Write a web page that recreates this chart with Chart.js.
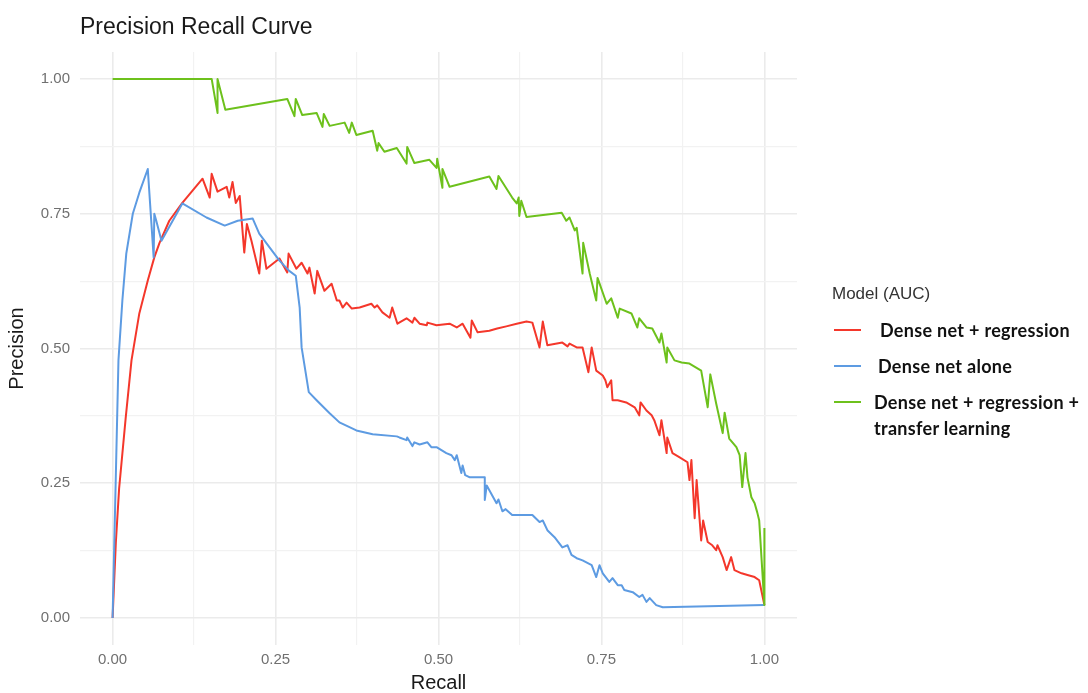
<!DOCTYPE html>
<html>
<head>
<meta charset="utf-8">
<title>Precision Recall Curve</title>
<script src="https://cdn.jsdelivr.net/npm/chart.js@4.4.1/dist/chart.umd.min.js"></script>
<style>
  html, body { margin: 0; padding: 0; background: #fff; }
  #wrap { position: relative; width: 1088px; height: 693px; overflow: hidden; }
  #legend { position: absolute; left: 832px; top: 281px; font-family: 'Liberation Sans', Arial, sans-serif; }
  #legend .ttl { font-size: 17px; color: #333; line-height: 26px; margin-bottom: 10px; }
  #legend .item { display: flex; align-items: flex-start; margin-bottom: 10px; }
  #legend .sw { width: 27px; height: 2px; margin: 12px 19px 0 2px; flex: none; }
  #legend .txt { font-family: Lato, 'Open Sans', sans-serif; font-weight: bold; font-size: 18px; letter-spacing: 0.3px; line-height: 26px; color: #111; white-space: nowrap; }
</style>
</head>
<body>
<div id="wrap">
  <canvas id="prChart" width="1088" height="693"></canvas>
  <div id="legend"></div>
</div>
<script>
// series: dense net + regression
const recallReg = [0, 0.005, 0.01, 0.02, 0.029, 0.041, 0.054, 0.064, 0.072, 0.087,
  0.107, 0.138, 0.149, 0.152, 0.161, 0.175, 0.179, 0.184, 0.189, 0.195,
  0.202, 0.206, 0.213, 0.225, 0.229, 0.236, 0.256, 0.268, 0.270, 0.282,
  0.290, 0.299, 0.302, 0.310, 0.314, 0.325, 0.336, 0.344, 0.348, 0.353,
  0.359, 0.367, 0.379, 0.397, 0.402, 0.406, 0.414, 0.425, 0.429, 0.437,
  0.451, 0.460, 0.463, 0.471, 0.482, 0.483, 0.497, 0.517, 0.528, 0.537,
  0.549, 0.551, 0.560, 0.578, 0.590, 0.604, 0.620, 0.635, 0.644, 0.655,
  0.660, 0.667, 0.690, 0.698, 0.701, 0.712, 0.721, 0.730, 0.735, 0.742,
  0.752, 0.756, 0.759, 0.765, 0.767, 0.775, 0.788, 0.801, 0.808, 0.810,
  0.819, 0.827, 0.831, 0.839, 0.842, 0.850, 0.851, 0.859, 0.870, 0.882,
  0.885, 0.888, 0.893, 0.896, 0.903, 0.906, 0.913, 0.920, 0.926, 0.928,
  0.936, 0.942, 0.949, 0.954, 0.965, 0.974, 0.985, 0.992, 1.0];
const precisionReg = [0, 0.14, 0.24, 0.37, 0.478, 0.565, 0.626, 0.669, 0.696, 0.737,
  0.770, 0.815, 0.780, 0.824, 0.791, 0.800, 0.780, 0.809, 0.770, 0.783,
  0.678, 0.731, 0.700, 0.639, 0.700, 0.648, 0.667, 0.641, 0.676, 0.648,
  0.659, 0.639, 0.650, 0.602, 0.644, 0.607, 0.620, 0.589, 0.589, 0.576,
  0.585, 0.574, 0.576, 0.583, 0.576, 0.580, 0.567, 0.557, 0.576, 0.546,
  0.556, 0.548, 0.557, 0.546, 0.543, 0.548, 0.543, 0.546, 0.539, 0.546,
  0.520, 0.552, 0.530, 0.533, 0.537, 0.541, 0.546, 0.550, 0.548, 0.502,
  0.550, 0.506, 0.511, 0.504, 0.509, 0.502, 0.502, 0.456, 0.502, 0.459,
  0.450, 0.441, 0.428, 0.441, 0.404, 0.404, 0.400, 0.391, 0.376, 0.400,
  0.385, 0.376, 0.367, 0.339, 0.367, 0.306, 0.335, 0.306, 0.298, 0.289,
  0.256, 0.293, 0.185, 0.256, 0.144, 0.181, 0.141, 0.135, 0.126, 0.135,
  0.113, 0.089, 0.113, 0.089, 0.083, 0.080, 0.076, 0.070, 0.024];

// series: dense net alone
const recallAlone = [0, 0.009, 0.015, 0.021, 0.031, 0.041, 0.054, 0.063, 0.064, 0.067,
  0.075, 0.107, 0.144, 0.172, 0.192, 0.215, 0.225, 0.256, 0.271, 0.281,
  0.287, 0.290, 0.301, 0.313, 0.333, 0.348, 0.374, 0.399, 0.436, 0.440,
  0.451, 0.452, 0.460, 0.463, 0.471, 0.483, 0.489, 0.497, 0.512, 0.520,
  0.525, 0.528, 0.535, 0.537, 0.541, 0.548, 0.571, 0.571, 0.574, 0.589,
  0.592, 0.598, 0.603, 0.613, 0.644, 0.655, 0.660, 0.667, 0.678, 0.690,
  0.698, 0.704, 0.712, 0.721, 0.735, 0.742, 0.747, 0.752, 0.762, 0.767,
  0.775, 0.781, 0.785, 0.798, 0.808, 0.813, 0.819, 0.824, 0.834, 0.844, 1.0];
const precisionAlone = [0, 0.478, 0.589, 0.676, 0.750, 0.789, 0.833, 0.669, 0.750, 0.737,
  0.700, 0.769, 0.743, 0.728, 0.737, 0.741, 0.713, 0.663, 0.644, 0.635,
  0.576, 0.502, 0.419, 0.404, 0.380, 0.363, 0.348, 0.341, 0.337, 0.335,
  0.330, 0.335, 0.319, 0.326, 0.322, 0.326, 0.317, 0.317, 0.306, 0.302,
  0.293, 0.302, 0.269, 0.283, 0.265, 0.261, 0.261, 0.219, 0.246, 0.213,
  0.220, 0.198, 0.202, 0.191, 0.191, 0.178, 0.181, 0.163, 0.150, 0.131,
  0.135, 0.117, 0.111, 0.107, 0.098, 0.076, 0.098, 0.083, 0.067, 0.074,
  0.061, 0.061, 0.052, 0.048, 0.039, 0.043, 0.030, 0.037, 0.024, 0.020, 0.024];

// series: dense net + regression + transfer learning
const recallTransfer = [0, 0.152, 0.161, 0.161, 0.173, 0.268, 0.279, 0.281, 0.291, 0.313,
  0.322, 0.324, 0.333, 0.356, 0.363, 0.367, 0.374, 0.399, 0.406, 0.408,
  0.417, 0.436, 0.451, 0.452, 0.463, 0.486, 0.497, 0.498, 0.506, 0.506,
  0.517, 0.578, 0.589, 0.592, 0.613, 0.620, 0.623, 0.624, 0.627, 0.635,
  0.689, 0.696, 0.701, 0.709, 0.712, 0.721, 0.722, 0.732, 0.742, 0.744,
  0.758, 0.765, 0.775, 0.778, 0.796, 0.805, 0.808, 0.819, 0.828, 0.839,
  0.842, 0.850, 0.851, 0.862, 0.873, 0.885, 0.903, 0.913, 0.917, 0.926,
  0.936, 0.939, 0.946, 0.957, 0.962, 0.966, 0.971, 0.974, 0.980, 0.985,
  0.989, 0.992, 1.0, 1.0];
const precisionTransfer = [1.0, 1.0, 0.937, 1.0, 0.943, 0.963, 0.931, 0.963, 0.933, 0.937,
  0.911, 0.935, 0.913, 0.919, 0.900, 0.919, 0.896, 0.904, 0.867, 0.881,
  0.865, 0.872, 0.843, 0.874, 0.844, 0.850, 0.835, 0.852, 0.798, 0.833,
  0.800, 0.819, 0.796, 0.820, 0.780, 0.769, 0.780, 0.746, 0.774, 0.744,
  0.752, 0.737, 0.743, 0.719, 0.724, 0.639, 0.696, 0.639, 0.589, 0.631,
  0.583, 0.593, 0.557, 0.574, 0.565, 0.539, 0.556, 0.539, 0.537, 0.511,
  0.528, 0.474, 0.502, 0.478, 0.474, 0.472, 0.459, 0.391, 0.452, 0.398,
  0.343, 0.381, 0.333, 0.317, 0.302, 0.243, 0.306, 0.261, 0.224, 0.213,
  0.196, 0.181, 0.024, 0.167];

const modelNames = ['Dense net + regression', 'Dense net alone', 'Dense net + regression + transfer learning'];
const majorTicks = [0, 0.25, 0.5, 0.75, 1];
const minorTicks = [0.125, 0.375, 0.625, 0.875];

const FONT = "'Liberation Sans', Arial, sans-serif";
Chart.defaults.font.family = FONT;

const toPoints = (xs, ys) => xs.map((x, i) => ({ x: x, y: ys[i] }));
const isMajor = v => majorTicks.some(m => Math.abs(m - v) < 1e-9);
const allTicks = majorTicks.concat(minorTicks).sort((a, b) => a - b);

function axis(titleText, isX) {
  return {
    type: 'linear',
    min: -0.05,
    max: 1.05,
    afterBuildTicks: s => { s.ticks = allTicks.map(v => ({ value: v })); },
    afterFit: s => { if (isX) s.height = 48; else s.width = 80; },
    border: { display: false },
    grid: {
      drawTicks: false,
      color: c => isMajor(c.tick.value) ? '#ebebeb' : '#f2f2f2',
      lineWidth: c => isMajor(c.tick.value) ? 1.6 : 1.2
    },
    ticks: {
      padding: isX ? 6 : 10,
      color: '#707070',
      font: { size: 15 },
      callback: v => isMajor(v) ? v.toFixed(2) : ''
    },
    title: {
      display: true,
      text: titleText,
      color: '#1a1a1a',
      font: { size: 20, lineHeight: 1 },
      padding: isX ? { top: 0, bottom: 0 } : { top: 7, bottom: 0 }
    }
  };
}

const colors = ['#f4372b', '#5d9be2', '#6dc11c'];
const series = [
  toPoints(recallReg, precisionReg),
  toPoints(recallAlone, precisionAlone),
  toPoints(recallTransfer, precisionTransfer)
];

const chart = new Chart(document.getElementById('prChart'), {
  type: 'line',
  data: {
    datasets: series.map((pts, i) => ({
      label: modelNames[i],
      data: pts,
      borderColor: colors[i],
      backgroundColor: colors[i],
      borderWidth: 2,
      pointRadius: 0,
      tension: 0,
      borderJoinStyle: 'round',
      order: 3 - i
    }))
  },
  options: {
    responsive: false,
    animation: false,
    layout: { padding: { left: 0, right: 291, top: 0, bottom: 0 } },
    plugins: {
      legend: { display: false },
      tooltip: { enabled: false },
      title: {
        display: true,
        text: 'Precision Recall Curve',
        align: 'start',
        fullSize: false,
        color: '#1a1a1a',
        font: { size: 23, weight: 'normal', lineHeight: 1.2 },
        padding: { top: 14, bottom: 10.4 }
      }
    },
    scales: {
      x: axis('Recall', true),
      y: axis('Precision', false)
    }
  }
});

// legend built from the chart's datasets
const textGap = [19, 17, 13];
const legend = document.getElementById('legend');
let html = '<div class="ttl">Model (AUC)</div>';
chart.data.datasets.forEach((ds, i) => {
  const text = ds.label.replace('regression + ', 'regression +<br>');
  html += '<div class="item"><span class="sw" style="background:' + ds.borderColor +
    ';margin-right:' + textGap[i] + 'px"></span><span class="txt">' + text + '</span></div>';
});
legend.innerHTML = html;
</script>
</body>
</html>
